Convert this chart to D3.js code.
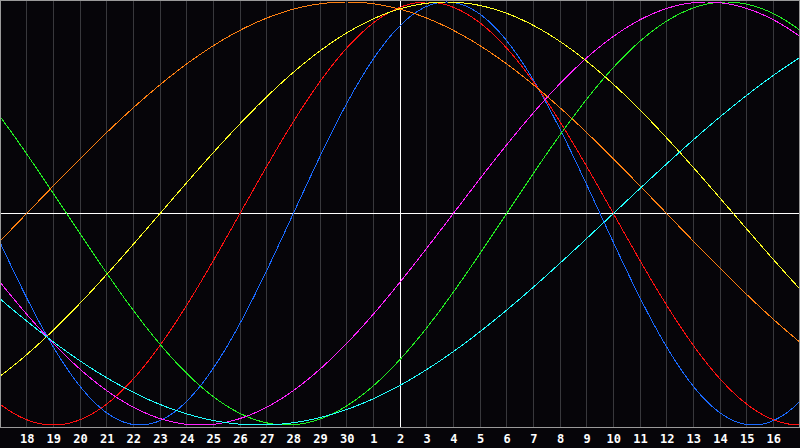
<!DOCTYPE html>
<html>
<head>
<meta charset="utf-8">
<script src="https://cdn.jsdelivr.net/npm/d3@7"></script>
<style>
  html, body { margin: 0; padding: 0; background: #060509; }
  svg { display: block; }
</style>
</head>
<body>
<svg id="chart" width="800" height="448"></svg>
<script>
// Day labels along the bottom (one per gridline, index 0 = left edge)
const dayLabels = ["17","18","19","20","21","22","23","24","25","26","27","28","29","30",
                   "1","2","3","4","5","6","7","8","9","10","11","12","13","14","15","16","17"];
// Days since birth at the left edge of the chart
const startDay = 18527;
// Biorhythm cycles (period in days) and their colours
const cyclePeriods = [23, 28, 33, 38, 43, 48, 53];
const cycleColors  = ["#1a6aff", "#ff1010", "#22ee22", "#ff22ff", "#ffff22", "#ff8010", "#22ffff"];
const todayIndex = 15;  // the highlighted day ("2")

const W = 800, H = 448;
const plotBottom = 427;
const svg = d3.select("#chart");

const x = d3.scaleLinear().domain([0, 30]).range([0, 800]);
const y = d3.scaleLinear().domain([-1, 1]).range([425, 2]);

svg.append("rect").attr("x", 0).attr("y", 0).attr("width", W).attr("height", H).attr("fill", "#060509");

// vertical day gridlines
const grid = svg.append("g").attr("shape-rendering", "crispEdges");
grid.selectAll("line.g").data(d3.range(1, 30)).join("line")
  .attr("class", "g")
  .attr("x1", d => Math.floor(x(d)) + 0.5).attr("x2", d => Math.floor(x(d)) + 0.5)
  .attr("y1", 0).attr("y2", plotBottom)
  .attr("stroke", d => d === todayIndex ? "#ffffff" : "#38383c")
  .attr("stroke-width", 1);

// horizontal zero line
grid.append("line")
  .attr("x1", 0).attr("x2", W)
  .attr("y1", Math.floor(y(0)) + 0.5).attr("y2", Math.floor(y(0)) + 0.5)
  .attr("stroke", "#ffffff").attr("stroke-width", 1);

// curves
const line = d3.line().x(d => x(d[0])).y(d => y(d[1]));
const samples = d3.range(0, 30.0001, 0.05);
cyclePeriods.forEach((p, i) => {
  const pts = samples.map(t => [t, Math.sin(2 * Math.PI * (startDay + t) / p)]);
  svg.append("path")
    .attr("d", line(pts))
    .attr("fill", "none")
    .attr("stroke", cycleColors[i])
    .attr("stroke-width", 1)
    .attr("shape-rendering", "crispEdges");
});

// frame
svg.append("rect")
  .attr("x", 0.5).attr("y", 0.5).attr("width", W - 1).attr("height", plotBottom - 0.5)
  .attr("fill", "none").attr("stroke", "#9a9a9a").attr("stroke-width", 1)
  .attr("shape-rendering", "crispEdges");

// bottom axis labels
const axis = d3.axisBottom(x)
  .tickValues(d3.range(1, 30))
  .tickFormat(d => dayLabels[d])
  .tickSize(0)
  .tickPadding(0);
const ag = svg.append("g").attr("transform", `translate(0, ${plotBottom + 7})`).call(axis);
ag.select(".domain").remove();
ag.selectAll("text")
  .attr("fill", "#ffffff")
  .attr("font-family", "'DejaVu Sans Mono', monospace")
  .attr("font-weight", "bold")
  .attr("font-size", "12px");
</script>
</body>
</html>
